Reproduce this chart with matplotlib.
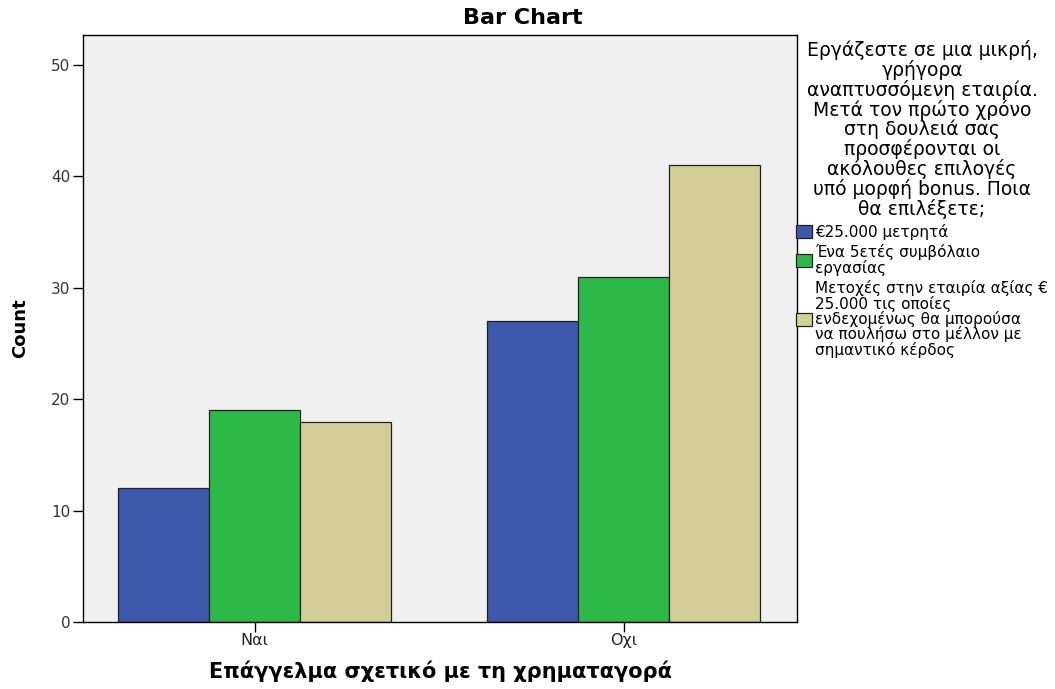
import numpy as np
import matplotlib
matplotlib.use("Agg")
import matplotlib.pyplot as plt

plt.rcParams['font.family'] = ['DejaVu Sans']

categories = ["Ναι", "Οχι"]
series_labels = [
    "€25.000 μετρητά",
    "Ένα 5ετές συμβόλαιο\nεργασίας",
    "Μετοχές στην εταιρία αξίας €\n25.000 τις οποίες\nενδεχομένως θα μπορούσα\nνα πουλήσω στο μέλλον με\nσημαντικό κέρδος",
]
cash = [12, 27]
contract = [19, 31]
shares = [18, 41]
series_values = [cash, contract, shares]
colors = ["#3e58ac", "#2eb848", "#d3ce97"]

legend_title = ("Εργάζεστε σε μια μικρή,\nγρήγορα\nαναπτυσσόμενη εταιρία.\n"
                "Μετά τον πρώτο χρόνο\nστη δουλειά σας\nπροσφέρονται οι\n"
                "ακόλουθες επιλογές\nυπό μορφή bonus. Ποια\nθα επιλέξετε;")

fig = plt.figure(figsize=(10.55, 6.89), dpi=100)
ax = fig.add_axes([0.0787, 0.0972, 0.6768, 0.852])
ax.set_facecolor("#f0f0f0")

x = np.arange(len(categories))
width = 0.2466
for i, (vals, col, lab) in enumerate(zip(series_values, colors, series_labels)):
    ax.bar(x + (i - 1) * width, vals, width, color=col, edgecolor="#222222",
           linewidth=0.9, label=lab)

ax.set_xlim(-0.465, 1.470)
ax.set_ylim(0, 52.7)
ax.set_yticks([0, 10, 20, 30, 40, 50])
ax.set_xticks(x)
ax.set_xticklabels(categories)
ax.tick_params(axis="y", direction="out", length=7, width=1,
               labelsize=11, labelcolor="#333333", pad=2)
ax.tick_params(axis="x", direction="out", length=7, width=1,
               labelsize=11.5, labelcolor="#222222", pad=1)
for s in ax.spines.values():
    s.set_linewidth(1)

# chart title sits centred over the whole figure, not just the axes
fig.text(0.496, 0.974, "Bar Chart", fontsize=16, fontweight="bold",
         ha="center", va="center")
ax.set_ylabel("Count", fontsize=13, fontweight="bold", labelpad=16)
ax.set_xlabel("Επάγγελμα σχετικό με τη χρηματαγορά", fontsize=15,
              fontweight="bold", labelpad=9)

leg = ax.legend(loc="upper left", bbox_to_anchor=(0.744, 0.958),
                bbox_transform=fig.transFigure, frameon=False,
                title=legend_title, title_fontsize=13.5, fontsize=11,
                alignment="center", handlelength=1.1, handleheight=0.9,
                handletextpad=0.2, labelspacing=0.3, borderpad=0.2)
leg.get_title().set_multialignment("center")
leg.get_title().set_linespacing(1.0)
for t in leg.get_texts():
    t.set_linespacing(0.95)

fig.savefig("out.png", dpi=100)
